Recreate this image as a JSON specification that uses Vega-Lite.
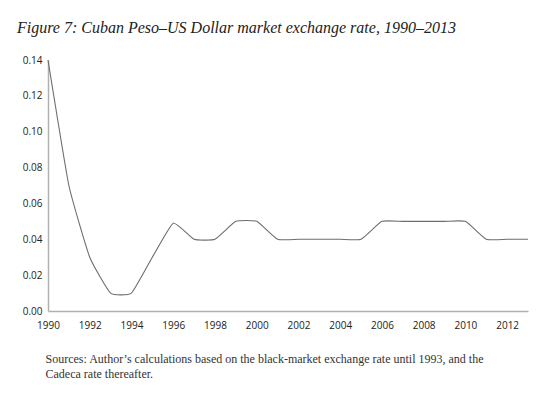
{
  "$schema": "https://vega.github.io/schema/vega-lite/v6.json",
  "width": 480,
  "height": 251,
  "autosize": "none",
  "padding": {"left": 48, "top": 60, "right": 22, "bottom": 84},
  "background": "white",
  "title": {
    "text": "Figure 7: Cuban Peso–US Dollar market exchange rate, 1990–2013",
    "anchor": "start",
    "frame": "group",
    "dx": -31,
    "font": "Liberation Serif",
    "fontStyle": "italic",
    "fontWeight": "normal",
    "fontSize": 16,
    "color": "#222",
    "baseline": "alphabetic",
    "offset": 6
  },
  "data": {
    "values": [
      {"year": 1990, "rate": 0.14},
      {"year": 1991, "rate": 0.07},
      {"year": 1992, "rate": 0.03},
      {"year": 1993, "rate": 0.01},
      {"year": 1994, "rate": 0.01},
      {"year": 1995, "rate": 0.03},
      {"year": 1996, "rate": 0.049},
      {"year": 1997, "rate": 0.04},
      {"year": 1998, "rate": 0.04},
      {"year": 1999, "rate": 0.05},
      {"year": 2000, "rate": 0.05},
      {"year": 2001, "rate": 0.04},
      {"year": 2002, "rate": 0.04},
      {"year": 2003, "rate": 0.04},
      {"year": 2004, "rate": 0.04},
      {"year": 2005, "rate": 0.04},
      {"year": 2006, "rate": 0.05},
      {"year": 2007, "rate": 0.05},
      {"year": 2008, "rate": 0.05},
      {"year": 2009, "rate": 0.05},
      {"year": 2010, "rate": 0.05},
      {"year": 2011, "rate": 0.04},
      {"year": 2012, "rate": 0.04},
      {"year": 2013, "rate": 0.04}
    ]
  },
  "mark": {"type": "line", "color": "#6e6e6e", "strokeWidth": 1.1, "interpolate": "cardinal", "tension": 0.6},
  "encoding": {
    "x": {
      "field": "year",
      "type": "quantitative",
      "scale": {"domain": [1990, 2013], "nice": false, "zero": false},
      "axis": {
        "values": [1990, 1992, 1994, 1996, 1998, 2000, 2002, 2004, 2006, 2008, 2010, 2012],
        "format": "d",
        "grid": false,
        "ticks": false,
        "domainColor": "#b0b0b0",
        "domainWidth": 1.5,
        "labelFont": "Open Sans",
        "labelFontSize": 10,
        "labelColor": "#222",
        "labelPadding": 9,
        "labelFlush": false,
        "title": ["Sources: Author’s calculations based on the black-market exchange rate until 1993, and the", "Cadeca rate thereafter."],
        "titleFont": "Liberation Serif",
        "titleFontSize": 12,
        "titleFontWeight": "normal",
        "titleColor": "#333",
        "titleAnchor": "start",
        "titleAlign": "left",
        "titleBaseline": "alphabetic",
        "titleLineHeight": 15,
        "titleX": -3,
        "titleY": 51
      }
    },
    "y": {
      "field": "rate",
      "type": "quantitative",
      "scale": {"domain": [0, 0.14], "nice": false},
      "axis": {
        "values": [0, 0.02, 0.04, 0.06, 0.08, 0.1, 0.12, 0.14],
        "format": ".2f",
        "grid": false,
        "ticks": false,
        "domainColor": "#b0b0b0",
        "domainWidth": 1.5,
        "labelFont": "Open Sans",
        "labelFontSize": 10,
        "labelColor": "#222",
        "labelPadding": 6,
        "labelFlush": false,
        "title": null
      }
    }
  },
  "config": {"view": {"stroke": null}}
}
